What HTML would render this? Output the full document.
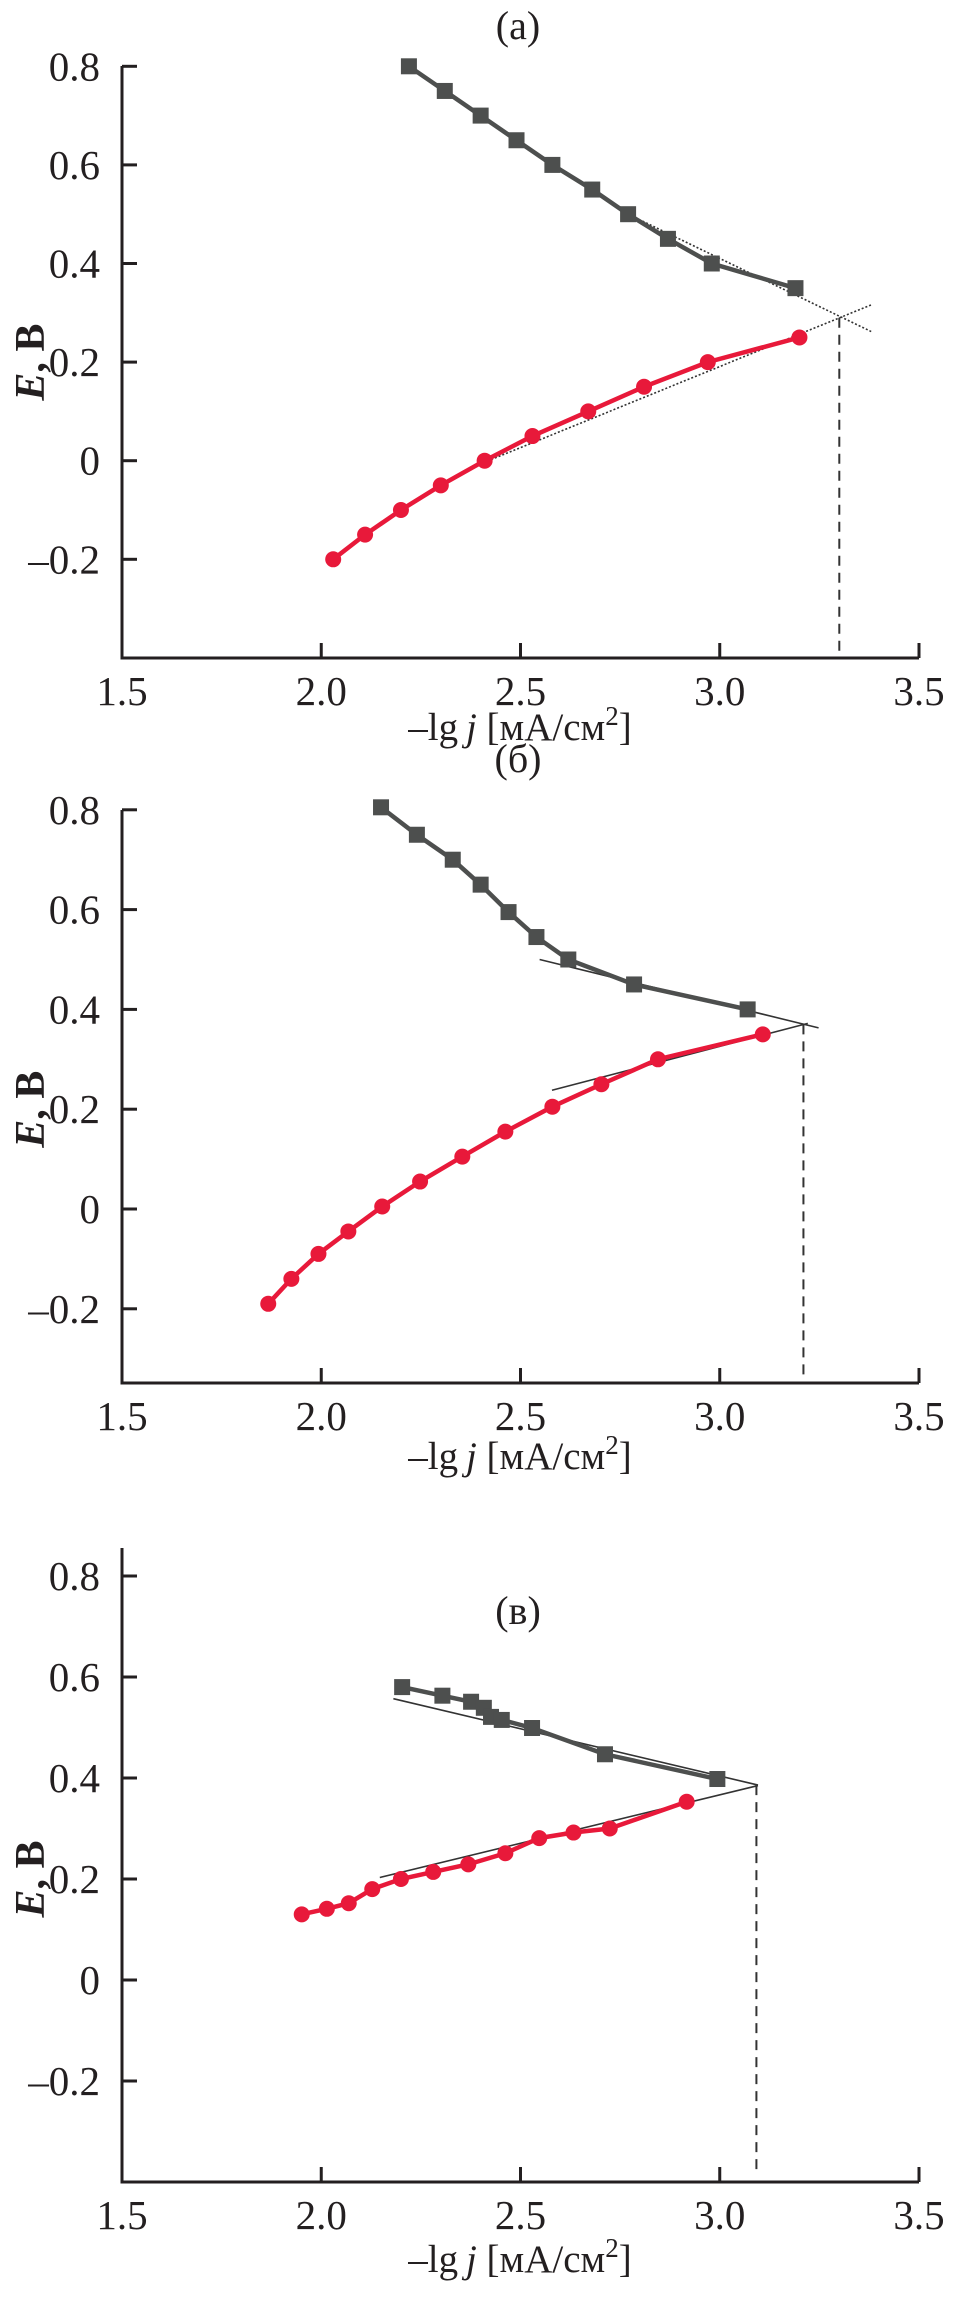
<!DOCTYPE html>
<html><head><meta charset="utf-8"><style>
html,body{margin:0;padding:0;background:#fff;}
svg{display:block;}
text{font-family:"Liberation Serif","DejaVu Serif",serif;fill:#231f20;}
</style></head><body>
<svg id="chart" width="964" height="2308" viewBox="0 0 964 2308" xmlns="http://www.w3.org/2000/svg"></svg>
<script>
// ---- data ----
const xTicks = [1.5, 2.0, 2.5, 3.0, 3.5];
const xTickLabels = ["1.5", "2.0", "2.5", "3.0", "3.5"];
const yTicks = [0.8, 0.6, 0.4, 0.2, 0, -0.2];
const yTickLabels = ["0.8", "0.6", "0.4", "0.2", "0", "\u20130.2"];
const panelTitles = ["(а)", "(б)", "(в)"];

const aAnodicX = [2.22, 2.31, 2.40, 2.49, 2.58, 2.68, 2.77, 2.87, 2.98, 3.19];
const aAnodicY = [0.80, 0.75, 0.70, 0.65, 0.60, 0.55, 0.50, 0.45, 0.40, 0.35];
const aCathodicX = [2.03, 2.11, 2.20, 2.30, 2.41, 2.53, 2.67, 2.81, 2.97, 3.20];
const aCathodicY = [-0.20, -0.15, -0.10, -0.05, 0.00, 0.05, 0.10, 0.15, 0.20, 0.25];
const aFitAnodic = [[2.77, 0.50], [3.38, 0.262]];
const aFitCathodic = [[2.38, -0.013], [3.38, 0.316]];
const aCross = [3.30, 0.29];

const bAnodicX = [2.15, 2.24, 2.33, 2.40, 2.47, 2.54, 2.62, 2.785, 3.07];
const bAnodicY = [0.805, 0.75, 0.70, 0.65, 0.595, 0.545, 0.50, 0.45, 0.40];
const bCathodicX = [1.867, 1.925, 1.993, 2.068, 2.153, 2.248, 2.354, 2.462, 2.58, 2.703, 2.845, 3.108];
const bCathodicY = [-0.19, -0.14, -0.09, -0.045, 0.005, 0.055, 0.105, 0.155, 0.205, 0.25, 0.30, 0.35];
const bFitAnodic = [[2.548, 0.50], [3.248, 0.363]];
const bFitCathodic = [[2.579, 0.238], [3.221, 0.372]];
const bCross = [3.21, 0.37];

const cAnodicX = [2.203, 2.304, 2.376, 2.408, 2.426, 2.453, 2.529, 2.712, 2.994];
const cAnodicY = [0.58, 0.563, 0.551, 0.539, 0.521, 0.515, 0.499, 0.447, 0.398];
const cCathodicX = [1.951, 2.014, 2.069, 2.128, 2.20, 2.281, 2.369, 2.462, 2.547, 2.633, 2.724, 2.917];
const cCathodicY = [0.13, 0.141, 0.152, 0.18, 0.20, 0.214, 0.229, 0.251, 0.281, 0.292, 0.30, 0.353];
const cFitAnodic = [[2.181, 0.557], [3.096, 0.386]];
const cFitCathodic = [[2.147, 0.203], [3.096, 0.385]];
const cCross = [3.092, 0.386];

// ---- layout ----
const NS = "http://www.w3.org/2000/svg";
const svg = document.getElementById("chart");
const X0 = 122, XS = 398.5;
const layouts = [
  {y0: 460.7, sy: 493, top: 66, bottom: 658, titleY: 25, xlabOff: 82, key: "a", dotted: true},
  {y0: 1209, sy: 499, top: 810, bottom: 1383, titleY: 758, xlabOff: 86, key: "b", dotted: false},
  {y0: 1980, sy: 505, top: 1548, bottom: 2182, titleY: 1610, xlabOff: 90, key: "c", dotted: false}
];
const series = {
  a: {ax: aAnodicX, ay: aAnodicY, cx: aCathodicX, cy: aCathodicY, fa: aFitAnodic, fc: aFitCathodic, cross: aCross},
  b: {ax: bAnodicX, ay: bAnodicY, cx: bCathodicX, cy: bCathodicY, fa: bFitAnodic, fc: bFitCathodic, cross: bCross},
  c: {ax: cAnodicX, ay: cAnodicY, cx: cCathodicX, cy: cCathodicY, fa: cFitAnodic, fc: cFitCathodic, cross: cCross}
};
function xScale(v) { return X0 + (v - 1.5) * XS; }
function mk(tag, attrs, parent) {
  const e = document.createElementNS(NS, tag);
  for (const k in attrs) e.setAttribute(k, attrs[k]);
  (parent || svg).appendChild(e);
  return e;
}

layouts.forEach((L, pi) => {
  const yScale = v => L.y0 - v * L.sy;
  const S = series[L.key];
  const g = mk("g", {});
  
  

  const t = mk("text", {x: 518, y: L.titleY + 14, "font-size": 40, "text-anchor": "middle"}, g);
  t.textContent = panelTitles[pi];
  
  

  const axis = mk("path", {d: `M${X0},${L.top}V${L.bottom}H${xScale(3.5)}`, fill: "none", stroke: "#231f20", "stroke-width": 3}, g);
  
  

  yTicks.forEach((v, i) => {
    const y = yScale(v);
    const tk = mk("line", {x1: X0, x2: X0 + 15, y1: y, y2: y, stroke: "#231f20", "stroke-width": 3}, g);
    
    
    const lb = mk("text", {x: 100, y: y + 14, "font-size": 41, "text-anchor": "end"}, g);
    lb.textContent = yTickLabels[i];
    
    
  });
  xTicks.forEach((v, i) => {
    const x = xScale(v);
    if (i > 0) {
      const tk = mk("line", {x1: x, x2: x, y1: L.bottom, y2: L.bottom - 15, stroke: "#231f20", "stroke-width": 3}, g);
      
      
    }
    const lb = mk("text", {x: x, y: L.bottom + 47, "font-size": 41, "text-anchor": "middle"}, g);
    lb.textContent = xTickLabels[i];
    
    
  });

  const xl = mk("text", {x: 520, y: L.bottom + L.xlabOff, "font-size": 39, "text-anchor": "middle"}, g);
  xl.innerHTML = '\u2013lg\u2009<tspan font-style="italic">j</tspan> [мА/см<tspan font-size="27" dy="-15">2</tspan><tspan dy="15">]</tspan>';
  
  

  const ycy = yScale(0.2);
  const yl = mk("text", {x: 0, y: 0, "font-size": 42, "font-weight": "bold", "text-anchor": "middle", transform: `translate(44,${ycy}) rotate(-90)`}, g);
  yl.innerHTML = '<tspan font-style="italic">E</tspan>, В';
  
  

  [S.fa, S.fc].forEach((f, k) => {
    const ln = mk("line", {x1: xScale(f[0][0]), y1: yScale(f[0][1]), x2: xScale(f[1][0]), y2: yScale(f[1][1]),
      stroke: "#333", "stroke-width": 1.6, "stroke-dasharray": L.dotted ? "2,2" : "none"}, g);
    
    
  });
  const dv = mk("line", {x1: xScale(S.cross[0]), x2: xScale(S.cross[0]), y1: yScale(S.cross[1]), y2: L.bottom - 6,
    stroke: "#333", "stroke-width": 2, "stroke-dasharray": "10,7"}, g);
  
  

  const pa = S.ax.map((v, i) => `${xScale(v)},${yScale(S.ay[i])}`).join(" ");
  const la = mk("polyline", {points: pa, fill: "none", stroke: "#4d4f4e", "stroke-width": 4.5}, g);
  
  
  S.ax.forEach((v, i) => {
    const r = mk("rect", {x: xScale(v) - 8, y: yScale(S.ay[i]) - 8, width: 16, height: 16, fill: "#4d4f4e"}, g);
    
    
  });
  const pc = S.cx.map((v, i) => `${xScale(v)},${yScale(S.cy[i])}`).join(" ");
  const lc = mk("polyline", {points: pc, fill: "none", stroke: "#e8193a", "stroke-width": 4.5}, g);
  
  
  S.cx.forEach((v, i) => {
    const c = mk("circle", {cx: xScale(v), cy: yScale(S.cy[i]), r: 8, fill: "#e8193a"}, g);
    
    
  });
});
</script>
</body></html>
